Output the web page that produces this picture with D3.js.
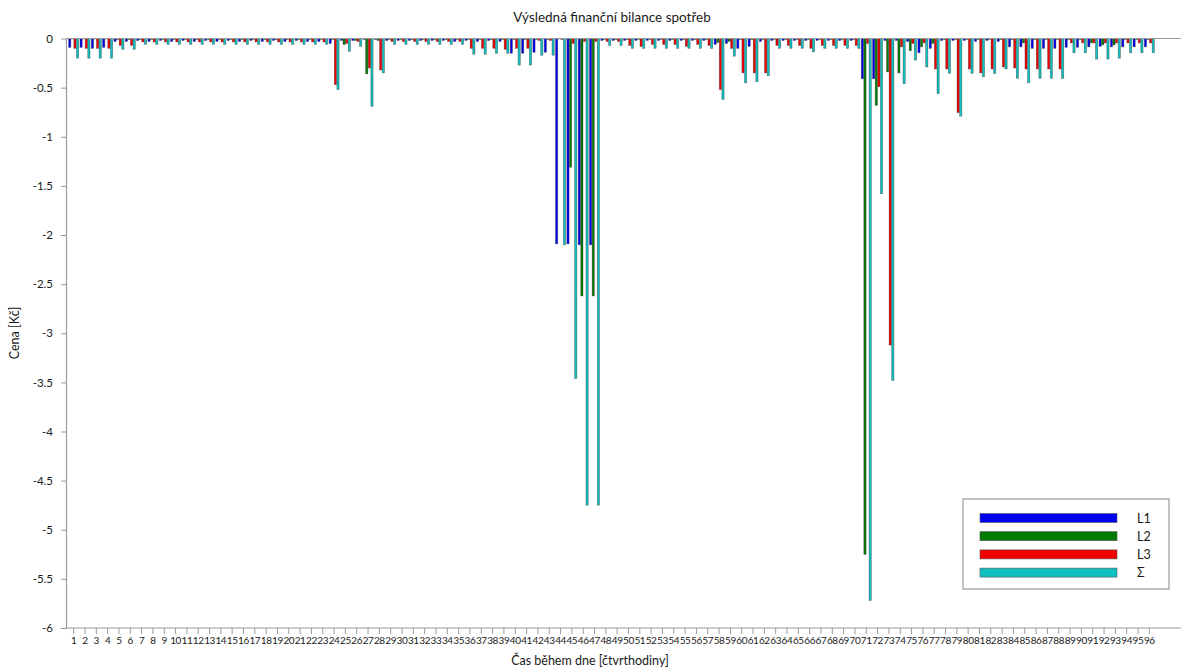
<!DOCTYPE html>
<html>
<head>
<meta charset="utf-8">
<script src="https://cdn.jsdelivr.net/npm/d3@7/dist/d3.min.js"></script>
<style>
  body { margin: 0; background: #fff; }
  svg text { font-family: Lato, "Open Sans", sans-serif; fill: #1a1a1a; }
</style>
</head>
<body>
<svg id="chart"></svg>
<script>
// spotřeby po čtvrthodinách, 96 hodnot na řadu
var cats = d3.range(1, 97);
var seriesNames = ["L1", "L2", "L3", "Σ"];
var seriesColors = ["#0000f0", "#007a00", "#f00000", "#10c0c0"];

var L1 = [-0.09,-0.09,-0.10,-0.09,-0.03,-0.03,-0.02,-0.03,-0.02,-0.03,
  -0.02,-0.03,-0.02,-0.03,-0.02,-0.03,-0.02,-0.03,-0.02,-0.03,
  -0.02,-0.03,-0.03,-0.05,-0.02,-0.02,-0.01,-0.01,-0.02,-0.02,
  -0.02,-0.02,-0.02,-0.02,-0.03,-0.02,-0.03,-0.02,-0.03,-0.15,
  -0.15,-0.14,-0.14,-2.09,-2.09,-2.10,-2.10,-0.02,-0.02,-0.02,
  -0.02,-0.02,-0.02,-0.02,-0.02,-0.02,-0.02,-0.06,-0.05,-0.10,
  -0.08,-0.03,-0.02,-0.02,-0.02,-0.02,-0.02,-0.02,-0.02,-0.02,
  -0.41,-0.41,-0.02,-0.02,-0.03,-0.145,-0.10,-0.02,-0.02,-0.02,
  -0.03,-0.02,-0.03,-0.085,-0.085,-0.10,-0.10,-0.10,-0.09,-0.09,
  -0.085,-0.08,-0.085,-0.085,-0.085,-0.085];

var L2 = [-0.005,-0.005,-0.005,-0.005,-0.01,-0.01,-0.01,-0.01,-0.01,-0.01,
  -0.01,-0.01,-0.01,-0.01,-0.01,-0.01,-0.01,-0.01,-0.01,-0.01,
  -0.01,-0.01,-0.01,-0.01,-0.06,-0.02,-0.36,-0.02,-0.01,-0.01,
  -0.01,-0.01,-0.01,-0.01,-0.01,-0.01,-0.01,-0.01,-0.01,-0.01,
  -0.01,-0.01,-0.01,-0.005,-1.31,-2.62,-2.62,-0.01,-0.01,-0.01,
  -0.01,-0.01,-0.01,-0.01,-0.01,-0.01,-0.01,-0.04,-0.03,-0.01,
  -0.01,-0.01,-0.01,-0.01,-0.01,-0.01,-0.01,-0.01,-0.01,-0.01,
  -5.25,-0.68,-0.34,-0.35,-0.125,-0.085,-0.05,-0.01,-0.01,-0.01,
  -0.01,-0.01,-0.01,-0.01,-0.045,-0.01,-0.01,-0.01,-0.01,-0.01,
  -0.045,-0.065,-0.065,-0.01,-0.01,-0.01];

var L3 = [-0.10,-0.10,-0.10,-0.10,-0.07,-0.07,-0.035,-0.035,-0.035,-0.035,
  -0.035,-0.035,-0.035,-0.035,-0.035,-0.035,-0.035,-0.035,-0.035,-0.035,
  -0.035,-0.035,-0.035,-0.47,-0.05,-0.03,-0.30,-0.32,-0.03,-0.03,
  -0.03,-0.03,-0.03,-0.03,-0.03,-0.10,-0.10,-0.10,-0.11,-0.10,
  -0.10,-0.02,-0.02,-0.01,-0.05,-0.03,-0.03,-0.03,-0.03,-0.07,
  -0.08,-0.06,-0.06,-0.06,-0.08,-0.06,-0.07,-0.52,-0.10,-0.35,
  -0.35,-0.35,-0.07,-0.07,-0.07,-0.10,-0.07,-0.07,-0.07,-0.07,
  -0.05,-0.49,-3.12,-0.085,-0.05,-0.045,-0.31,-0.31,-0.755,-0.31,
  -0.35,-0.31,-0.29,-0.30,-0.31,-0.31,-0.31,-0.31,-0.045,-0.045,
  -0.045,-0.045,-0.045,-0.045,-0.045,-0.045];

var SUM = [-0.20,-0.20,-0.20,-0.20,-0.11,-0.11,-0.06,-0.06,-0.06,-0.06,
  -0.06,-0.06,-0.06,-0.06,-0.06,-0.06,-0.06,-0.06,-0.06,-0.06,
  -0.06,-0.06,-0.06,-0.52,-0.13,-0.08,-0.69,-0.35,-0.06,-0.06,
  -0.06,-0.06,-0.06,-0.06,-0.06,-0.16,-0.16,-0.15,-0.15,-0.27,
  -0.27,-0.17,-0.17,-2.10,-3.46,-4.75,-4.75,-0.07,-0.07,-0.10,
  -0.10,-0.10,-0.10,-0.10,-0.10,-0.10,-0.10,-0.62,-0.18,-0.45,
  -0.44,-0.38,-0.10,-0.10,-0.10,-0.135,-0.10,-0.10,-0.10,-0.10,
  -5.72,-1.58,-3.48,-0.46,-0.22,-0.29,-0.56,-0.355,-0.79,-0.355,
  -0.39,-0.355,-0.31,-0.405,-0.45,-0.405,-0.405,-0.405,-0.145,-0.145,
  -0.21,-0.21,-0.20,-0.145,-0.145,-0.145];

var yTicks = [0, -0.5, -1, -1.5, -2, -2.5, -3, -3.5, -4, -4.5, -5, -5.5, -6];

var width = 1181;
var height = 670;

var svg = d3.select("svg#chart")
    .attr("width", width)
    .attr("height", height);

var axisColor = "#9a9a9a";

var x0 = d3.scaleBand()
    .domain(cats)
    .range([68, 1155])
    .paddingInner(0.08)
    .paddingOuter(0.04);

var x1 = d3.scaleBand()
    .domain(seriesNames)
    .range([0, x0.bandwidth()]);

var y = d3.scaleLinear()
    .domain([-6, 0])
    .range([628, 38.5]);

var allSeries = [L1, L2, L3, SUM];

// tabulka pro kreslení
var rows = [];
cats.forEach(function(c, i) {
    seriesNames.forEach(function(s, j) {
        rows.push({ cat: c, name: s, v: allSeries[j][i], color: seriesColors[j] });
    });
});

var group = svg.append("g");

group.selectAll("rect.bar")
    .data(rows)
    .enter()
    .append("rect")
    .attr("class", "bar")
    .attr("x", function(d) { return x0(d.cat) + x1(d.name) + 0.2; })
    .attr("y", function(d) { return y(0); })
    .attr("width", x1.bandwidth() - 0.4)
    .attr("height", function(d) { return y(d.v) - y(0); })
    .attr("fill", function(d) { return d.color; })
    .attr("stroke", "#333")
    .attr("stroke-opacity", 0.6)
    .attr("stroke-width", 0.6);

// zero line across the top
svg.append("line")
    .attr("x1", 66).attr("x2", width)
    .attr("y1", y(0)).attr("y2", y(0))
    .attr("stroke", axisColor).attr("stroke-width", 1.2);

// bottom line
svg.append("line")
    .attr("x1", 66).attr("x2", width)
    .attr("y1", y(-6)).attr("y2", y(-6))
    .attr("stroke", axisColor).attr("stroke-width", 1.2);

// y axis
var yAxis = svg.append("g")
    .attr("transform", "translate(66,0)")
    .call(d3.axisLeft(y)
        .tickValues(yTicks)
        .tickSize(5)
        .tickSizeOuter(0)
        .tickFormat(function(d) { return String(d); }));
yAxis.select(".domain").attr("stroke", axisColor).attr("stroke-width", 1.2);
yAxis.selectAll(".tick line").attr("stroke", axisColor);
yAxis.selectAll(".tick text")
    .attr("x", -13)
    .style("font-size", "11.5px")
    .style("font-family", "Lato, sans-serif")
    .attr("fill", "#1a1a1a");

// x axis
var xAxis = svg.append("g")
    .attr("transform", "translate(0," + y(-6) + ")")
    .call(d3.axisBottom(x0).tickSize(6).tickSizeOuter(0));
xAxis.select(".domain").remove();
xAxis.selectAll(".tick line").attr("stroke", axisColor);
xAxis.selectAll(".tick text")
    .attr("y", 9)
    .style("font-size", "10px")
    .style("letter-spacing", "-0.4px")
    .style("font-family", "Lato, sans-serif")
    .attr("fill", "#1a1a1a");

// titles
svg.append("text")
    .attr("x", 612).attr("y", 22)
    .attr("text-anchor", "middle")
    .style("font-size", "13.5px")
    .text("Výsledná finanční bilance spotřeb");

svg.append("text")
    .attr("x", 590).attr("y", 665)
    .attr("text-anchor", "middle")
    .style("font-size", "12.5px")
    .text("Čas během dne [čtvrthodiny]");

svg.append("text")
    .attr("transform", "translate(19,333) rotate(-90)")
    .attr("text-anchor", "middle")
    .style("font-size", "12.5px")
    .text("Cena [Kč]");

// legend
var legend = svg.append("g").attr("transform", "translate(963,499)");
legend.append("rect")
    .attr("width", 206).attr("height", 90)
    .attr("fill", "#fff")
    .attr("stroke", axisColor)
    .attr("stroke-width", 1.2);

var items = legend.selectAll("g.item")
    .data(seriesNames)
    .enter()
    .append("g")
    .attr("class", "item")
    .attr("transform", function(d, i) { return "translate(0," + (19 + i * 18.2) + ")"; });

items.append("rect")
    .attr("x", 17).attr("y", -4.5)
    .attr("width", 137).attr("height", 9)
    .attr("fill", function(d, i) { return seriesColors[i]; })
    .attr("stroke", "#555")
    .attr("stroke-width", 0.6);

items.append("text")
    .attr("x", 174).attr("y", 4.5)
    .style("font-size", "12.5px")
    .text(function(d) { return d; });
</script>
</body>
</html>
